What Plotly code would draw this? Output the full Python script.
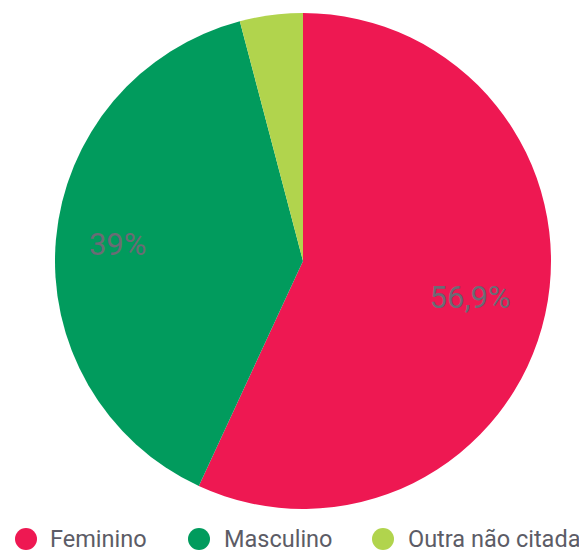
import plotly.graph_objects as go

categories = ["Feminino", "Masculino", "Outra não citada"]
values = [56.9, 39.0, 4.1]
colors = ["#EE1852", "#019B5D", "#B1D44D"]
label_text = ["56,9%", "39%", ""]

# page body adds an 8px margin, so the figure is 8px smaller than the window
W, H = 579, 545
pie_domain = dict(x=[47 / W, 543 / W], y=[44 / H, 540 / H])

fig = go.Figure()
# coloured slices
fig.add_trace(go.Pie(
    labels=categories, values=values,
    textinfo="none",
    sort=False, direction="clockwise", rotation=0,
    marker=dict(colors=colors, line=dict(width=0)),
    domain=pie_domain, showlegend=False,
    hoverinfo="label+percent",
))
# transparent rings on top that carry the percentage labels
label_holes = [0.38, 0.5, 0.44]
for i, hole in enumerate(label_holes):
    if not label_text[i]:
        continue
    txt = [t if j == i else "" for j, t in enumerate(label_text)]
    fig.add_trace(go.Pie(
        labels=categories, values=values, text=txt,
        textinfo="text", textposition="inside",
        insidetextorientation="horizontal",
        sort=False, direction="clockwise", rotation=0, hole=hole,
        marker=dict(colors=["rgba(0,0,0,0)"] * 3, line=dict(width=0)),
        textfont=dict(family="Roboto", size=31, color="#6B6B75"),
        domain=pie_domain, showlegend=False, hoverinfo="skip",
    ))

# legend: circle + label for each category
legend_circle_x = [18, 191, 375]
legend_text_x = [40, 214, 398]
legend_y = 531
for name, col, cx, tx in zip(categories, colors, legend_circle_x, legend_text_x):
    fig.add_shape(
        type="circle", xref="paper", yref="paper",
        x0=(cx - 11) / W, x1=(cx + 11) / W,
        y0=(H - legend_y - 11) / H, y1=(H - legend_y + 11) / H,
        fillcolor=col, line=dict(width=0),
    )
    fig.add_annotation(
        text=name, xref="paper", yref="paper",
        x=tx / W, y=(H - legend_y) / H, xanchor="left", yanchor="middle",
        showarrow=False,
        font=dict(family="Roboto", size=23.5, color="#5C5C66"),
    )

fig.update_layout(
    width=W, height=H,
    margin=dict(l=0, r=0, t=0, b=0, autoexpand=False),
    paper_bgcolor="white", plot_bgcolor="white",
    separators=",.",
    showlegend=False,
)
fig.write_html("out.html")
